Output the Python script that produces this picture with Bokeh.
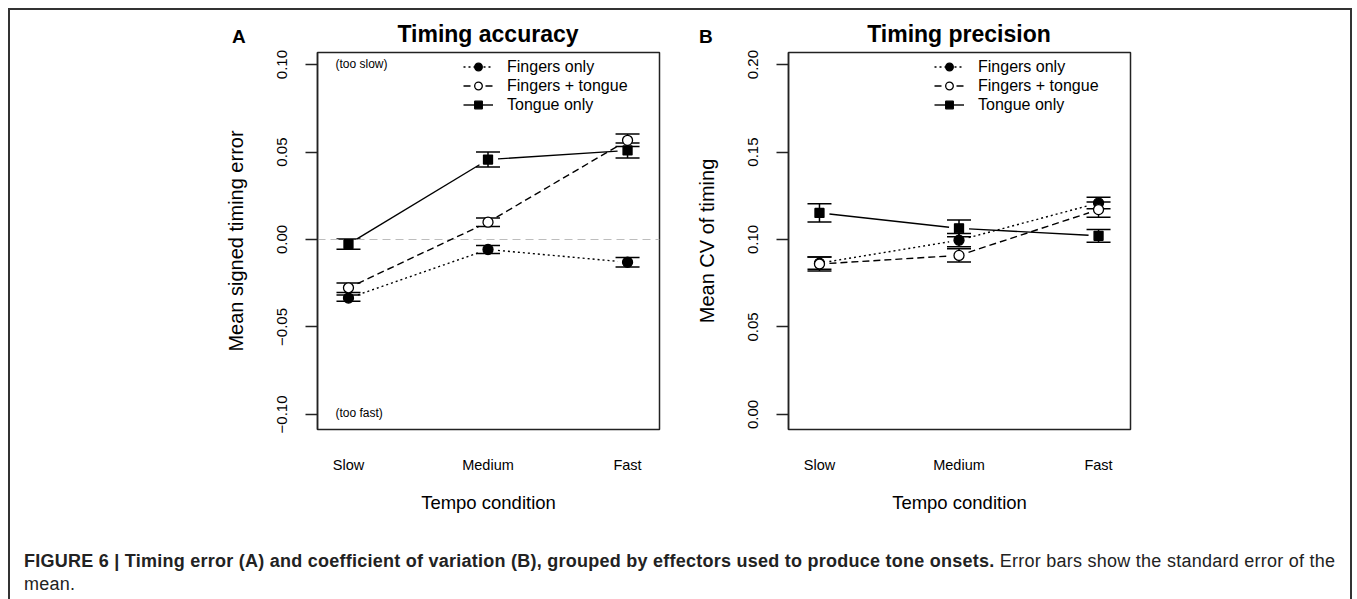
import math
from bokeh.plotting import figure
from bokeh.models import (ColumnDataSource, Whisker, TeeHead, Legend, LegendItem,
                          Label, Span, FixedTicker, Div)
from bokeh.layouts import row, column
from bokeh.embed import file_html
from bokeh.resources import INLINE

FONT = "Liberation Sans"

# ---------------- data ----------------
tempo = ["Slow", "Medium", "Fast"]
xpos = [1, 2, 3]
series = ["Fingers only", "Fingers + tongue", "Tongue only"]

# Panel A: mean signed timing error
acc_fingers = [-0.0335, -0.0057, -0.0130]
acc_fingers_se = [0.0018, 0.0023, 0.0027]
acc_ft = [-0.0276, 0.0099, 0.0567]
acc_ft_se = [0.0027, 0.0024, 0.0036]
acc_tongue = [-0.0026, 0.0457, 0.0509]
acc_tongue_se = [0.0029, 0.0043, 0.0043]

# Panel B: mean CV of timing
cv_fingers = [0.0865, 0.0996, 0.1209]
cv_fingers_se = [0.0035, 0.0038, 0.0033]
cv_ft = [0.0860, 0.0909, 0.1171]
cv_ft_se = [0.0040, 0.0038, 0.0044]
cv_tongue = [0.1152, 0.1064, 0.1021]
cv_tongue_se = [0.0052, 0.0048, 0.0036]

acc_ticks = [-0.10, -0.05, 0.00, 0.05, 0.10]
acc_tick_labels = ["\u22120.10", "\u22120.05", "0.00", "0.05", "0.10"]
cv_ticks = [0.00, 0.05, 0.10, 0.15, 0.20]
cv_tick_labels = ["0.00", "0.05", "0.10", "0.15", "0.20"]

styles = [  # dash, marker, fill
    ("2 3", "circle", "black"),
    ("7 4", "circle", "white"),
    ("solid", "square", "black"),
]

X_RANGE = (0.778, 3.229)
FRAME_W, FRAME_H = 342, 377


def gapped(xs, ys, yrange, gap=10.0):
    """Line segments between consecutive points, stopped short of each point
    (like R's type='b')."""
    sx = FRAME_W / (X_RANGE[1] - X_RANGE[0])
    sy = FRAME_H / (yrange[1] - yrange[0])
    x0, y0, x1, y1 = [], [], [], []
    for i in range(len(xs) - 1):
        dx, dy = xs[i + 1] - xs[i], ys[i + 1] - ys[i]
        L = math.hypot(dx * sx, dy * sy)
        f = min(gap / L, 0.45)
        x0.append(xs[i] + dx * f)
        y0.append(ys[i] + dy * f)
        x1.append(xs[i + 1] - dx * f)
        y1.append(ys[i + 1] - dy * f)
    return dict(x0=x0, y0=y0, x1=x1, y1=y1)


def make_panel(ylabel, yrange, ticks, tick_labels, means, ses,
               width, height, mbl, mbr, mbt, mbb):
    p = figure(width=width, height=height, x_range=X_RANGE, y_range=yrange,
               output_backend="svg", toolbar_location=None, title=None,
               min_border_left=mbl, min_border_right=mbr,
               min_border_top=mbt, min_border_bottom=mbb, margin=0,
               background_fill_color="white", border_fill_color="white")
    p.grid.visible = False
    p.outline_line_color = "#222222"
    p.outline_line_width = 1.5

    xa = p.xaxis[0]
    xa.ticker = FixedTicker(ticks=xpos)
    xa.major_label_overrides = {x: t for x, t in zip(xpos, tempo)}
    xa.major_tick_out = 0
    xa.major_tick_in = 0
    xa.minor_tick_out = 0
    xa.minor_tick_in = 0
    xa.axis_line_color = None
    xa.major_label_standoff = 27
    xa.major_label_text_font = FONT
    xa.major_label_text_font_size = "14.5px"
    xa.major_label_text_color = "black"
    xa.axis_label = "Tempo condition"
    xa.axis_label_text_font = FONT
    xa.axis_label_text_font_size = "18.5px"
    xa.axis_label_text_font_style = "normal"
    xa.axis_label_text_color = "black"
    xa.axis_label_standoff = 16

    ya = p.yaxis[0]
    ya.ticker = FixedTicker(ticks=ticks)
    ya.major_label_overrides = {t: l for t, l in zip(ticks, tick_labels)}
    ya.major_label_orientation = "vertical"
    ya.major_tick_out = 12
    ya.major_tick_in = 0
    ya.minor_tick_out = 0
    ya.minor_tick_in = 0
    ya.major_tick_line_color = "#222222"
    ya.major_tick_line_width = 1.3
    ya.axis_line_color = "#222222"
    ya.axis_line_width = 1.5
    ya.major_label_standoff = 18
    ya.major_label_text_font = FONT
    ya.major_label_text_font_size = "15px"
    ya.major_label_text_color = "black"
    ya.axis_label = ylabel
    ya.axis_label_text_font = FONT
    ya.axis_label_text_font_size = "20px"
    ya.axis_label_text_font_style = "normal"
    ya.axis_label_text_color = "black"
    ya.axis_label_standoff = 28

    items = []
    for name, m, se, (dash, marker, fill) in zip(series, means, ses, styles):
        src = ColumnDataSource(dict(
            x=xpos, y=m,
            upper=[a + b for a, b in zip(m, se)],
            lower=[a - b for a, b in zip(m, se)]))
        seg_src = ColumnDataSource(gapped(xpos, m, yrange))
        ln = p.segment("x0", "y0", "x1", "y1", source=seg_src, line_color="black",
                       line_width=1.4, line_dash=dash)
        w = Whisker(source=src, base="x", upper="upper", lower="lower",
                    dimension="height", line_color="black", line_width=1.5,
                    level="underlay",
                    upper_head=TeeHead(size=24, line_width=1.5, line_color="black"),
                    lower_head=TeeHead(size=24, line_width=1.5, line_color="black"))
        p.add_layout(w)
        sc = p.scatter("x", "y", source=src, marker=marker,
                       size=10 if marker == "circle" else 9,
                       fill_color=fill, line_color="black", line_width=1.3)
        items.append(LegendItem(label=name, renderers=[ln, sc]))

    leg = Legend(items=items, location=(146, 315), border_line_color=None,
                 background_fill_alpha=0, label_text_font=FONT,
                 label_text_font_size="16px", label_text_color="black",
                 glyph_width=30, glyph_height=19, label_height=19,
                 spacing=0, padding=0, margin=0, label_standoff=14)
    p.add_layout(leg)
    return p


def header(letter, letter_left, title, frame_left, frame_width, width, height):
    html = (
        f'<div style="position:relative;width:{width}px;height:{height}px;'
        f'font-family:\'{FONT}\';color:black;">'
        f'<span style="position:absolute;left:{letter_left}px;top:17px;'
        f'font-size:19px;line-height:19px;font-weight:bold;">{letter}</span>'
        f'<span style="position:absolute;left:{frame_left}px;width:{frame_width}px;'
        f'top:13px;text-align:center;font-size:23px;line-height:23px;'
        f'font-weight:bold;white-space:nowrap;">{title}</span></div>'
    )
    return Div(text=html, width=width, height=height, margin=0)


acc_range = (-0.1086, 0.1069)
cv_range = (-0.0086, 0.2069)

pA = make_panel("Mean signed timing error", acc_range,
                acc_ticks, acc_tick_labels,
                [acc_fingers, acc_ft, acc_tongue],
                [acc_fingers_se, acc_ft_se, acc_tongue_se],
                680, 472, 307, 31, 4, 91)
pA.add_layout(Span(location=0, dimension="width", line_color="#bdbdbd",
                   line_dash="8 5", line_width=1.2, level="underlay"))
pA.add_layout(Label(x=0.907, y=0.1006, text="(too slow)", text_font=FONT,
                    text_font_size="12px", text_color="black", text_baseline="middle"))
pA.add_layout(Label(x=0.907, y=-0.0989, text="(too fast)", text_font=FONT,
                    text_font_size="12px", text_color="black", text_baseline="middle"))

pB = make_panel("Mean CV of timing", cv_range,
                cv_ticks, cv_tick_labels,
                [cv_fingers, cv_ft, cv_tongue],
                [cv_fingers_se, cv_ft_se, cv_tongue_se],
                660, 472, 98, 220, 4, 91)

hA = header("A", 222, "Timing accuracy", 307, 342, 680, 38)
hB = header("B", 9, "Timing precision", 98, 342, 660, 38)

cap = Div(text=('<b>FIGURE 6 | Timing error (A) and coefficient of variation (B), '
                'grouped by effectors used to produce tone onsets.</b> Error bars '
                'show the standard error of the<br>mean.'),
          width=1340, height=79, margin=0,
          styles={"font-family": FONT, "font-size": "18px", "color": "#222",
                  "letter-spacing": "0.25px",
                  "line-height": "23px", "padding-left": "14px",
                  "padding-top": "30px", "white-space": "nowrap",
                  "box-sizing": "border-box"})

layout = column(row(column(hA, pA, margin=0), column(hB, pB, margin=0), margin=0),
                cap, margin=(8, 0, 0, 8),
                styles={"border": "2px solid #333", "border-bottom": "none"})

open("out.html", "w").write(file_html(layout, INLINE))
